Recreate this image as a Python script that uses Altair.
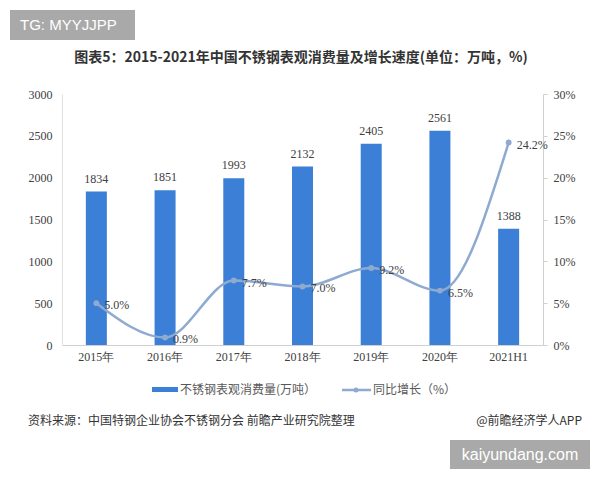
import altair as alt
import pandas as pd

years = ["2015年", "2016年", "2017年", "2018年", "2019年", "2020年", "2021H1"]
consumption = [1834, 1851, 1993, 2132, 2405, 2561, 1388]
growth = [5.0, 0.9, 7.7, 7.0, 9.2, 6.5, 24.2]
growth_labels = ["5.0%", "0.9%", "7.7%", "7.0%", "9.2%", "6.5%", "24.2%"]

df = pd.DataFrame({"year": years, "cons": consumption, "growth": growth, "glabel": growth_labels})

W, H = 481, 251
L, T = 62, 94
BAR_C = "#3b7fd6"
LINE_C = "#8eaad1"
SERIF = "Liberation Serif"
CJK = "Noto Sans CJK SC"

xenc = alt.X("year:N", sort=years, scale=alt.Scale(paddingInner=0, paddingOuter=0),
             axis=alt.Axis(title=None, labelAngle=0, ticks=False, domainColor="#d0d0d0",
                           labelFont=SERIF, labelFontSize=12, labelColor="#404040", labelPadding=6))

yleft = alt.Y("cons:Q", scale=alt.Scale(domain=[0, 3000]),
              axis=alt.Axis(title=None, values=[0, 500, 1000, 1500, 2000, 2500, 3000], grid=False,
                            format="d", ticks=False, domainColor="#e0e0e0", labelFont=SERIF,
                            labelFontSize=12, labelColor="#404040", labelPadding=10))

bars = alt.Chart(df).mark_bar(color=BAR_C, size=21).encode(x=xenc, y=yleft)
bar_text = alt.Chart(df).mark_text(font=SERIF, fontSize=12, color="#404040", dy=-13).encode(
    x=xenc, y=yleft, text="cons:Q")
left = alt.layer(bars, bar_text)

yright = alt.Y("growth:Q", scale=alt.Scale(domain=[0, 30]),
               axis=alt.Axis(title=None, orient="right", values=[0, 5, 10, 15, 20, 25, 30], grid=False,
                             ticks=True, tickSize=4, tickColor="#d0d0d0", domainColor="#d0d0d0",
                             labelExpr="datum.value + '%'", labelFont=SERIF, labelFontSize=12,
                             labelColor="#404040", labelPadding=6))

line = alt.Chart(df).mark_line(color=LINE_C, strokeWidth=2.5, interpolate="monotone").encode(
    x=xenc, y=yright)
pts = alt.Chart(df).mark_point(color=LINE_C, filled=True, size=35, opacity=1).encode(
    x=xenc, y=yright)
ltext = alt.Chart(df).mark_text(font=SERIF, fontSize=12, color="#404040", align="left", dx=8, dy=2).encode(
    x=xenc, y=yright, text="glabel:N")
right = alt.layer(line, pts, ltext)

one = pd.DataFrame({"a": [0]})

def txt(s, x, y, size=12, color="#404040", font=CJK, align="left", weight="normal"):
    return alt.Chart(one).mark_text(text=s, font=font, fontSize=size, color=color, align=align,
                                    baseline="middle", fontWeight=weight).encode(
        x=alt.value(x - L), y=alt.value(y - T))

def box(x1, x2, y1, y2, color):
    return alt.Chart(one).mark_rect(color=color).encode(
        x=alt.value(x1 - L), x2=alt.value(x2 - L), y=alt.value(y1 - T), y2=alt.value(y2 - T))

title = txt("图表5：2015-2021年中国不锈钢表观消费量及增长速度(单位：万吨，%)", 301, 58, size=14,
            color="#333333", align="center", weight="bold")

leg_rect = box(152, 178, 387, 392, BAR_C)
leg_t1 = txt("不锈钢表观消费量(万吨）", 180, 390, size=12, color="#595959")
leg_line = alt.Chart(one).mark_rule(color=LINE_C, strokeWidth=2.5).encode(
    x=alt.value(342 - L), x2=alt.value(371 - L), y=alt.value(390 - T))
leg_dot = alt.Chart(one).mark_point(color=LINE_C, filled=True, size=25, opacity=1).encode(
    x=alt.value(356 - L), y=alt.value(390 - T))
leg_t2 = txt("同比增长（%）", 373, 390, size=12, color="#595959")

src = txt("资料来源：中国特钢企业协会不锈钢分会 前瞻产业研究院整理", 28, 421, size=12, color="#333333")
src2 = txt("@前瞻经济学人APP", 582, 421, size=12, color="#333333", align="right")

tg_box = box(10, 135, 10, 40, "#a9a9a9")
tg_t = txt("TG: MYYJJPP", 20, 25, size=15, color="white", font="Liberation Sans")
ky_box = box(450, 590, 440, 469, "#a9a9a9")
ky_t = txt("kaiyundang.com", 520, 455, size=16, color="white", font="Liberation Sans", align="center")

main = alt.layer(left, right).resolve_scale(y="independent")
deco = alt.layer(title, leg_rect, leg_t1, leg_line, leg_dot, leg_t2, src, src2, tg_box, tg_t, ky_box, ky_t)

chart = alt.layer(main, deco).properties(
    width=W, height=H,
    autosize=alt.AutoSizeParams(type="none"),
    padding={"left": L, "top": T, "right": 600 - L - W, "bottom": 480 - T - H},
).configure(font=SERIF, background="white").configure_view(strokeWidth=0).configure_axis(
    labelFont=SERIF, labelFontSize=12, labelColor="#404040")

chart.save("out.html", embed_options={"renderer": "svg", "actions": False})
